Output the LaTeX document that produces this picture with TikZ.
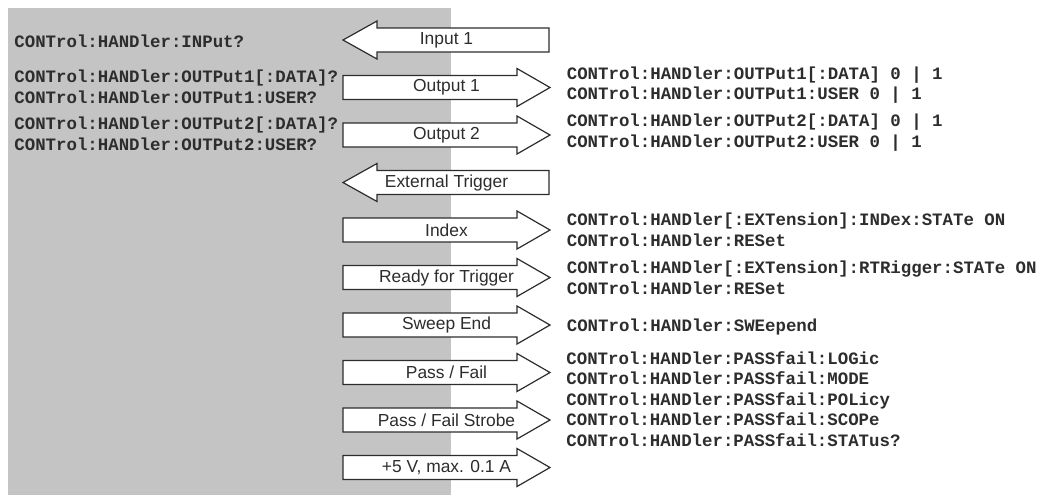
\documentclass[tikz,border=0pt]{standalone}
\usepackage{fontspec}
\setsansfont{Liberation Sans}
\newfontfamily\scpifont{Liberation Mono}
\usetikzlibrary{positioning}
\definecolor{panelgray}{RGB}{196,196,196}
\definecolor{inkgray}{RGB}{45,45,45}

\tikzset{
  sigframe/.style={draw=inkgray, line width=0.6pt, fill=white, line join=miter},
  siglabel/.style={font=\sffamily\fontsize{8.7}{10}\selectfont, text=inkgray,
                   inner sep=0pt, minimum width=103.5pt, minimum height=12pt},
  scpi/.style={font=\scpifont\bfseries\fontsize{8.7}{10.3}\selectfont, text=inkgray,
               align=left, inner sep=0pt}
}

% signal arrows: name, row (px from top), label
\newcommand{\outsig}[3]{%
  \draw[sigframe] (343,#2-12) -- (517,#2-12) -- (517,#2-19) -- (550,#2)
    -- (517,#2+19) -- (517,#2+12) -- (343,#2+12) -- cycle;
  \node[siglabel] (#1) at (446.5,#2) {#3};}
\newcommand{\insig}[3]{%
  \draw[sigframe] (549,#2-12) -- (377,#2-12) -- (377,#2-19) -- (343,#2)
    -- (377,#2+19) -- (377,#2+12) -- (549,#2+12) -- cycle;
  \node[siglabel] (#1) at (446.5,#2) {#3};}

\begin{document}
\begin{tikzpicture}[x=0.5pt, y=-0.5pt]
  \useasboundingbox (0,0) rectangle (1042,495);
  \fill[panelgray] (8,8) rectangle (451,495);

  % handler lines
  \insig{in1}{40}{Input 1}
  \outsig{out1}{87.5}{Output 1}
  \outsig{out2}{135}{Output 2}
  \insig{exttrig}{182.5}{External Trigger}
  \outsig{index}{230}{Index}
  \outsig{rdytrig}{277.5}{Ready for Trigger}
  \outsig{swpend}{325}{Sweep End}
  \outsig{passfail}{372.5}{Pass / Fail}
  \outsig{pfstrobe}{420}{Pass / Fail Strobe}
  \outsig{supply}{467.5}{+5 V, max. 0.1 A}

  % queries on the left
  \node[scpi, anchor=west] (q-in1) at (14,41) {CONTrol:HANDler:INPut?};
  \node[scpi, anchor=west] (q-out1) at (14,86.5)
    {CONTrol:HANDler:OUTPut1[:DATA]?\\CONTrol:HANDler:OUTPut1:USER?};
  \node[scpi, anchor=west] (q-out2) at (14,133.5)
    {CONTrol:HANDler:OUTPut2[:DATA]?\\CONTrol:HANDler:OUTPut2:USER?};

  % settings on the right
  \node[scpi, right=8pt of out1, yshift=1.2pt] (s-out1)
    {CONTrol:HANDler:OUTPut1[:DATA] 0 | 1\\CONTrol:HANDler:OUTPut1:USER 0 | 1};
  \node[scpi, right=8pt of out2, yshift=1.2pt] (s-out2)
    {CONTrol:HANDler:OUTPut2[:DATA] 0 | 1\\CONTrol:HANDler:OUTPut2:USER 0 | 1};
  \node[scpi, right=8pt of index] (s-index)
    {CONTrol:HANDler[:EXTension]:INDex:STATe ON\\CONTrol:HANDler:RESet};
  \node[scpi, right=8pt of rdytrig] (s-rdytrig)
    {CONTrol:HANDler[:EXTension]:RTRigger:STATe ON\\CONTrol:HANDler:RESet};
  \node[scpi, right=8pt of swpend, yshift=-1pt] (s-swpend) {CONTrol:HANDler:SWEepend};
  \node[scpi, anchor=west] (s-passfail) at (566,399)
    {CONTrol:HANDler:PASSfail:LOGic\\CONTrol:HANDler:PASSfail:MODE\\%
     CONTrol:HANDler:PASSfail:POLicy\\CONTrol:HANDler:PASSfail:SCOPe\\%
     CONTrol:HANDler:PASSfail:STATus?};
\end{tikzpicture}
\end{document}
